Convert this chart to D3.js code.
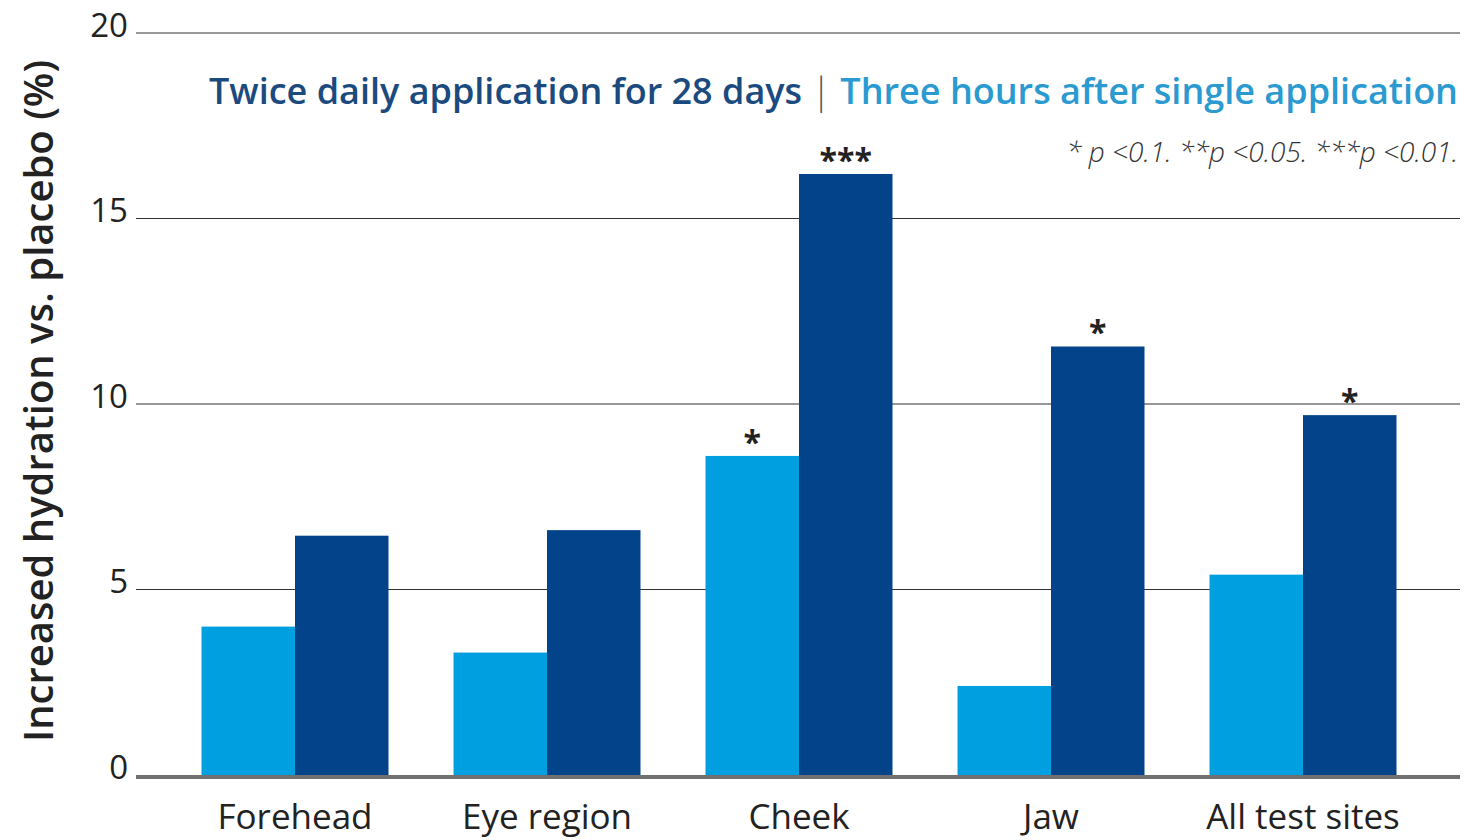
<!DOCTYPE html>
<html>
<head>
<meta charset="UTF-8">
<style>
body { margin: 0; background: #fff; }
svg text { font-family: 'Open Sans', 'Noto Sans', sans-serif; }
.tick text { font-weight: 400; fill: #222; }
</style>
</head>
<body>
<svg id="chart"></svg>
<script src="https://d3js.org/d3.v7.min.js"></script>
<script>
let width = 1465, height = 840;

// data
const sites = ["Forehead", "Eye region", "Cheek", "Jaw", "All test sites"];
const singleApp = [4.0, 3.3, 8.6, 2.4, 5.4];     // three hours after single application
const twiceDaily = [6.45, 6.6, 16.2, 11.55, 9.7]; // twice daily for 28 days
const singleStars = ["", "", "*", "", ""];
const twiceStars = ["", "", "***", "*", "*"];
const yTicks = [0, 5, 10, 15, 20];

const lightBlue = "#009fe0", darkBlue = "#03438a";

let svg = d3.select("#chart").attr("width", width).attr("height", height);

let y = d3.scaleLinear().domain([0, 20]).range([775, 33]);

let x = d3.scaleBand()
  .domain(sites)
  .range([169, 1429])
  .paddingInner(0.258)
  .paddingOuter(0.129);

let xs = d3.scaleBand().domain(["single", "twice"]).range([0, x.bandwidth()]);

// grid lines
svg.append("g")
  .selectAll("line")
  .data(yTicks.filter(d => d > 0))
  .join("line")
  .attr("x1", 136).attr("x2", 1460)
  .attr("y1", d => y(d)).attr("y2", d => y(d))
  .attr("stroke", "#333").attr("stroke-width", 1.2);

// y tick labels
svg.append("g")
  .attr("class", "tick")
  .selectAll("text")
  .data(yTicks)
  .join("text")
  .attr("x", 128)
  .attr("y", d => y(d) - 5)
  .attr("text-anchor", "end")
  .attr("dominant-baseline", "middle")
  .style("font-size", "33px")
  .text(d => d);

// bars
let groups = svg.append("g")
  .selectAll("g")
  .data(sites)
  .join("g")
  .attr("transform", d => "translate(" + x(d) + ",0)");

groups.append("rect")
  .attr("x", xs("single"))
  .attr("width", xs.bandwidth())
  .attr("y", (d, i) => y(singleApp[i]))
  .attr("height", (d, i) => y(0) - y(singleApp[i]))
  .attr("fill", lightBlue);

groups.append("rect")
  .attr("x", xs("twice"))
  .attr("width", xs.bandwidth())
  .attr("y", (d, i) => y(twiceDaily[i]))
  .attr("height", (d, i) => y(0) - y(twiceDaily[i]))
  .attr("fill", darkBlue);

// significance stars
groups.append("text")
  .attr("x", xs("single") + xs.bandwidth() / 2)
  .attr("y", (d, i) => y(singleApp[i]) - 2)
  .attr("text-anchor", "middle")
  .style("font-size", "32px").style("font-weight", "700").style("fill", "#222")
  .text((d, i) => singleStars[i]);

groups.append("text")
  .attr("x", xs("twice") + xs.bandwidth() / 2)
  .attr("y", (d, i) => y(twiceDaily[i]) - 2)
  .attr("text-anchor", "middle")
  .style("font-size", "32px").style("font-weight", "700").style("fill", "#222")
  .text((d, i) => twiceStars[i]);

// baseline
svg.append("line")
  .attr("x1", 136).attr("x2", 1460)
  .attr("y1", y(0) + 2).attr("y2", y(0) + 2)
  .attr("stroke", "#707070").attr("stroke-width", 4);

// x labels
svg.append("g")
  .selectAll("text")
  .data(sites)
  .join("text")
  .attr("x", d => x(d) + x.bandwidth() / 2)
  .attr("y", 829)
  .attr("text-anchor", "middle")
  .style("font-size", "35px").style("font-weight", "400").style("fill", "#222")
  .text(d => d);

// y axis title
svg.append("text")
  .attr("transform", "translate(53,401) rotate(-90)")
  .attr("text-anchor", "middle")
  .style("font-size", "40px").style("font-weight", "600").style("fill", "#222")
  .text("Increased hydration vs. placebo (%)");

// legend
let legend = svg.append("text")
  .attr("x", 1458).attr("y", 104)
  .attr("text-anchor", "end")
  .style("font-size", "36px").style("font-weight", "600");
legend.append("tspan").attr("fill", "#1b4a7e").text("Twice daily application for 28 days");
legend.append("tspan").attr("fill", "#555").style("font-weight", "300").text(" | ");
legend.append("tspan").attr("fill", "#2a9ad0").text("Three hours after single application");

// footnote
svg.append("text")
  .attr("x", 1458).attr("y", 162)
  .attr("text-anchor", "end")
  .style("font-size", "28px").style("font-style", "italic").style("font-weight", "300")
  .style("fill", "#333")
  .text("* p <0.1. **p <0.05. ***p <0.01.");
</script>
</body>
</html>
